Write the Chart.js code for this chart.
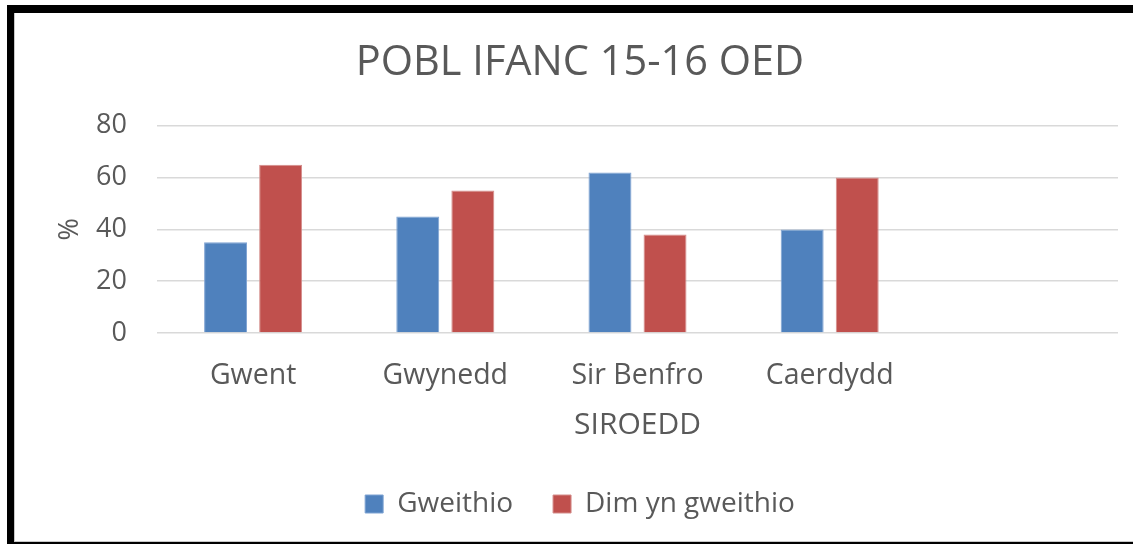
<!DOCTYPE html>
<html>
<head>
<meta charset="utf-8">
<script src="https://cdn.jsdelivr.net/npm/chart.js@4/dist/chart.umd.min.js"></script>
<style>
  html, body { margin: 0; padding: 0; background: #ffffff; }
  #wrap { width: 1133px; height: 544px; position: relative; }
</style>
</head>
<body>
<div id="wrap"><canvas id="c" width="1133" height="544"></canvas></div>
<script>
const categories = ["Gwent", "Gwynedd", "Sir Benfro", "Caerdydd", ""];
const gweithio = [35, 45, 62, 40, null];
const dimYnGweithio = [65, 55, 38, 60, null];
const yTicks = [0, 20, 40, 60, 80];
const chartTitle = "POBL IFANC 15-16 OED";
const xTitle = "SIROEDD";
const yTitle = "%";
const seriesNames = ["Gweithio", "Dim yn gweithio"];

const FONT = "'Open Sans', 'Liberation Sans', sans-serif";
const TXT = "#595959";

const framePlugin = {
  id: 'frame',
  beforeDraw(chart) {
    const ctx = chart.ctx;
    ctx.save();
    ctx.fillStyle = '#ffffff';
    ctx.fillRect(0, 0, chart.width, chart.height);
    ctx.restore();
  },
  afterDraw(chart) {
    const ctx = chart.ctx;
    ctx.save();
    ctx.fillStyle = '#000000';
    ctx.fillRect(7, 5, chart.width - 7, 8);
    ctx.fillRect(7, 5, 7, chart.height - 5);
    ctx.fillRect(7, 542, chart.width - 7, 2);
    ctx.fillStyle = '#c8c8c8';
    ctx.fillRect(14, 13, 1, 529);
    ctx.fillRect(14, 541, chart.width - 14, 1);
    ctx.restore();
  }
};

new Chart(document.getElementById('c'), {
  type: 'bar',
  data: {
    labels: categories,
    datasets: [
      { label: seriesNames[0], data: gweithio, backgroundColor: '#4F81BD', borderColor: '#7FA3D3', borderWidth: 1 },
      { label: seriesNames[1], data: dimYnGweithio, backgroundColor: '#C0504D', borderColor: '#D48D8B', borderWidth: 1 }
    ]
  },
  options: {
    responsive: false,
    animation: false,
    devicePixelRatio: 1,
    layout: { padding: { left: 42, right: 15, top: 13, bottom: 16 } },
    datasets: { bar: { categoryPercentage: 0.573, barPercentage: 0.78 } },
    plugins: {
      title: {
        display: true, text: chartTitle, color: TXT,
        font: { family: FONT, size: 41.5, weight: 'normal' },
        padding: { top: 25, bottom: 38 }
      },
      legend: {
        position: 'bottom',
        labels: {
          color: TXT, font: { family: FONT, size: 28 },
          boxWidth: 18, boxHeight: 18, padding: 40
        }
      },
      tooltip: { enabled: false }
    },
    scales: {
      x: {
        grid: { display: false, drawTicks: false },
        border: { display: false },
        ticks: { color: TXT, font: { family: FONT, size: 28.5 }, padding: 26, maxRotation: 0 },
        title: { display: true, text: xTitle, color: TXT, font: { family: FONT, size: 30 }, padding: { top: 6, bottom: 7 } },
        afterFit(s) { s.height = 117; }
      },
      y: {
        min: 0, max: 80,
        afterBuildTicks(s) { s.ticks = yTicks.map(v => ({ value: v })); },
        grid: { color: '#D9D9D9', lineWidth: 1.5, drawTicks: false },
        border: { display: false },
        ticks: { color: TXT, font: { family: FONT, size: 27 }, padding: 30 },
        title: { display: true, text: yTitle, color: TXT, font: { family: FONT, size: 27 }, padding: { top: 12, bottom: 0 } },
        afterFit(s) { s.width = 115; }
      }
    }
  },
  plugins: [framePlugin]
});
</script>
</body>
</html>
